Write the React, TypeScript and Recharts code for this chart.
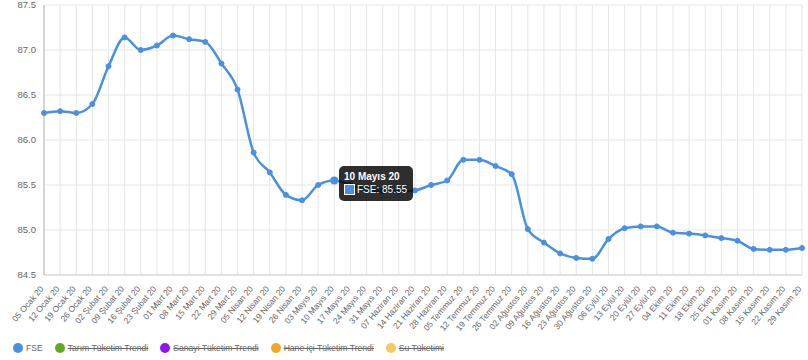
import { CartesianGrid, Line, LineChart, Tooltip, XAxis, YAxis } from 'recharts';

const weeks = [
  '05 Ocak 20', '12 Ocak 20', '19 Ocak 20', '26 Ocak 20',
  '02 Şubat 20', '09 Şubat 20', '16 Şubat 20', '23 Şubat 20',
  '01 Mart 20', '08 Mart 20', '15 Mart 20', '22 Mart 20', '29 Mart 20',
  '05 Nisan 20', '12 Nisan 20', '19 Nisan 20', '26 Nisan 20',
  '03 Mayıs 20', '10 Mayıs 20', '17 Mayıs 20', '24 Mayıs 20', '31 Mayıs 20',
  '07 Haziran 20', '14 Haziran 20', '21 Haziran 20', '28 Haziran 20',
  '05 Temmuz 20', '12 Temmuz 20', '19 Temmuz 20', '26 Temmuz 20',
  '02 Ağustos 20', '09 Ağustos 20', '16 Ağustos 20', '23 Ağustos 20', '30 Ağustos 20',
  '06 Eylül 20', '13 Eylül 20', '20 Eylül 20', '27 Eylül 20',
  '04 Ekim 20', '11 Ekim 20', '18 Ekim 20', '25 Ekim 20',
  '01 Kasım 20', '08 Kasım 20', '15 Kasım 20', '22 Kasım 20', '29 Kasım 20',
];

const fse = [
  86.30, 86.32, 86.30, 86.40, 86.82, 87.14, 87.00, 87.05, 87.16, 87.12, 87.09, 86.85,
  86.56, 85.86, 85.64, 85.39, 85.33, 85.50, 85.55, 85.50, 85.45, 85.43, 85.43, 85.44,
  85.50, 85.55, 85.78, 85.78, 85.71, 85.62, 85.01, 84.86, 84.74, 84.69, 84.68, 84.90,
  85.02, 85.04, 85.04, 84.97, 84.96, 84.94, 84.91, 84.88, 84.79, 84.78, 84.78, 84.80,
];

const yTicks = [84.5, 85.0, 85.5, 86.0, 86.5, 87.0, 87.5];

const legendItems = [
  { name: 'FSE', color: '#4a90e2', hidden: false },
  { name: 'Tarım Tüketim Trendi', color: '#64a820', hidden: true },
  { name: 'Sanayi Tüketim Trendi', color: '#8f14f5', hidden: true },
  { name: 'Hane içi Tüketim Trendi', color: '#f5a623', hidden: true },
  { name: 'Su Tüketimi', color: '#f8c95e', hidden: true },
];

const data = weeks.map((week, i) => ({ week, fse: fse[i] }));

const FONT = '"Liberation Sans", Arial, sans-serif';
const BLUE = '#4a90e2';

function RotatedTick({ x, y, payload }: any) {
  return (
    <text
      x={x}
      y={y + 6}
      transform={`rotate(-50, ${x}, ${y + 6})`}
      textAnchor="end"
      fontSize={8.5}
      fill="#666"
      fontFamily={FONT}
    >
      {payload.value}
    </text>
  );
}

function ChartTooltip({ active, payload, label }: any) {
  if (!active || !payload || !payload.length) return null;
  return (
    <div
      style={{
        background: 'rgba(0,0,0,0.82)',
        borderRadius: 5,
        padding: '4px 6px 5px 5px',
        color: '#fff',
        fontFamily: FONT,
        fontSize: 10,
        lineHeight: '13px',
        whiteSpace: 'nowrap',
      }}
    >
      <div style={{ fontWeight: 'bold' }}>{label}</div>
      <div style={{ display: 'flex', alignItems: 'center', gap: 2 }}>
        <span style={{ display: 'inline-block', width: 9, height: 9, background: BLUE, border: '1px solid #fff' }} />
        <span>FSE: {payload[0].value.toFixed(2)}</span>
      </div>
    </div>
  );
}

export default function App() {
  return (
    <div style={{ position: 'absolute', left: 0, top: 0, width: 808, height: 360, background: '#fff', fontFamily: FONT }}>
      <LineChart width={808} height={334} data={data} margin={{ top: 5, right: 6, bottom: 0, left: 0 }}>
        <CartesianGrid stroke="#e6e6e6" />
        <XAxis
          dataKey="week"
          interval={0}
          height={59}
          tick={<RotatedTick />}
          tickLine={false}
          axisLine={{ stroke: '#cfcfcf' }}
        />
        <YAxis
          domain={[84.5, 87.5]}
          ticks={yTicks}
          width={44}
          tickFormatter={(v: number) => v.toFixed(1)}
          tick={{ fontSize: 9.5, fill: '#666', fontFamily: FONT }}
          tickLine={false}
          axisLine={{ stroke: '#bdbdbd' }}
        />
        <Tooltip
          active
          defaultIndex={18}
          cursor={false}
          position={{ x: 339, y: 166 }}
          content={<ChartTooltip />}
          isAnimationActive={false}
        />
        <Line
          type="monotone"
          dataKey="fse"
          name="FSE"
          stroke={BLUE}
          strokeWidth={2.5}
          dot={{ r: 2.5, fill: BLUE, stroke: BLUE, strokeWidth: 1 }}
          activeDot={{ r: 3, fill: BLUE, stroke: BLUE }}
          isAnimationActive={false}
        />
      </LineChart>
      <div style={{ display: 'flex', alignItems: 'center', paddingLeft: 13, marginTop: 9, fontSize: 8.6, color: '#666' }}>
        {legendItems.map((item) => (
          <div key={item.name} style={{ display: 'flex', alignItems: 'center', marginRight: 12 }}>
            <span style={{ display: 'inline-block', width: 10, height: 10, borderRadius: '50%', background: item.color, marginRight: 3 }} />
            <span style={{ textDecoration: item.hidden ? 'line-through' : 'none' }}>{item.name}</span>
          </div>
        ))}
      </div>
    </div>
  );
}
